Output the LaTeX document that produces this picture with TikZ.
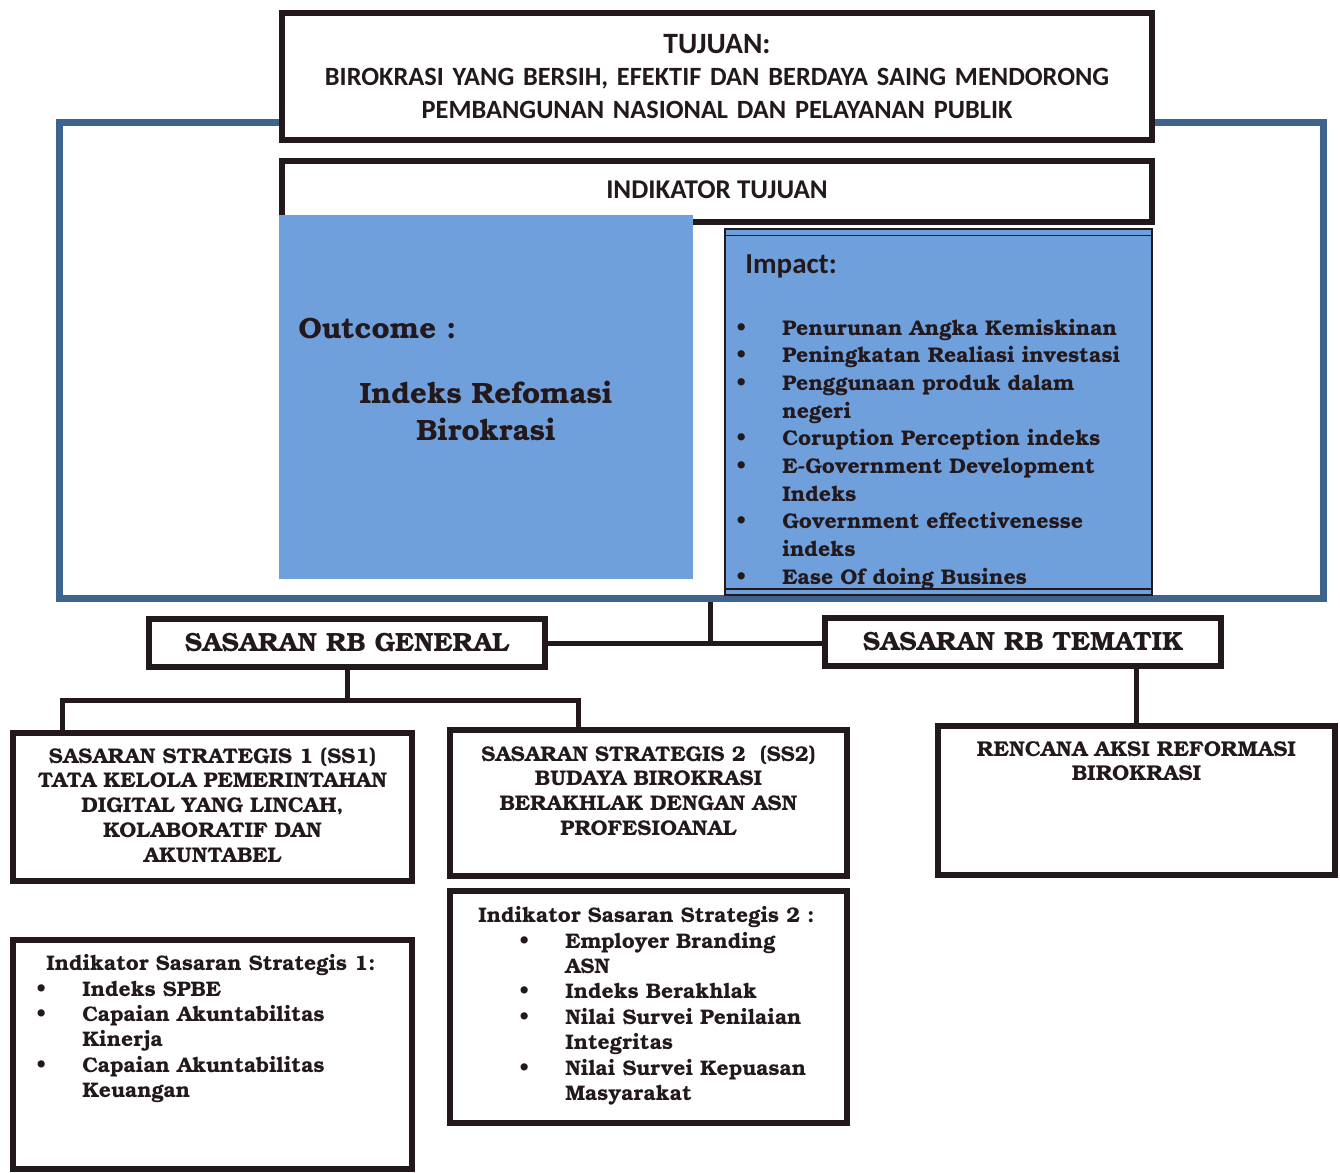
\documentclass[tikz,border=0pt]{standalone}
\usepackage{fontspec}
\setmainfont{TeX Gyre Bonum}
\newfontfamily\calfont{Carlito}
\definecolor{bluebox}{RGB}{112,160,220}
\definecolor{framebl}{RGB}{62,99,143}
\definecolor{boxline}{RGB}{35,25,28}
\newcommand{\itm}[1]{\makebox[9.2mm][l]{\textbullet}#1}
\newcommand{\ind}[1]{\hspace*{9.2mm}#1}
\begin{document}
\begin{tikzpicture}[x=0.2mm, y=-0.2mm,
	box/.style={draw=boxline, line width=1.2mm, fill=white, inner sep=0},
	wire/.style={draw=boxline, line width=1mm},
	txt/.style={inner sep=0, text=boxline, font=\bfseries}]
	
	\useasboundingbox (0,0) rectangle (1340,1172);
	
	% Rahmen biru
	\node[draw=framebl, line width=1.4mm, minimum width=252.6mm, minimum height=95mm, inner sep=0] (frame) at (691.5,360.5) {};
	
	% Tujuan
	\node[box, minimum width=174mm, minimum height=25.4mm] (tujuan) at (717,76.5) {};
	\node[txt, anchor=base, text width=172mm, align=center, font=\calfont\bfseries\fontsize{15}{18.5}\selectfont] (tujuantxt) at (717,53)
	{{\fontsize{16.8}{18.5}\selectfont TUJUAN:}\\BIROKRASI YANG BERSIH, EFEKTIF DAN BERDAYA SAING MENDORONG\\PEMBANGUNAN NASIONAL DAN PELAYANAN PUBLIK};
	
	% Indikator Tujuan
	\node[box, minimum width=174mm, minimum height=12.2mm] (indtujuan) at (717,191.5) {};
	\node[txt, anchor=base, font=\calfont\bfseries\fontsize{15.4}{18}\selectfont] (indtujuantxt) at (717,198) {INDIKATOR TUJUAN};
	
	% Outcome
	\node[fill=bluebox, minimum width=82.8mm, minimum height=72.8mm, inner sep=0] (outcome) at (486,397) {};
	\node[txt, anchor=base west, font=\bfseries\fontsize{16.7}{20}\selectfont] (outlbl) at (298,338) {Outcome :};
	\node[txt, anchor=base, text width=78mm, align=center, font=\bfseries\fontsize{16.7}{21.5}\selectfont] (outval) at (486,403) {Indeks Refomasi\\Birokrasi};
	
	% Impact
	\node[fill=bluebox, draw=boxline, line width=0.3mm, minimum width=85.4mm, minimum height=73.2mm, inner sep=0] (impact) at (938.5,412) {};
	\draw[boxline, line width=0.3mm] ([yshift=-1.4mm]impact.north west) -- ([yshift=-1.4mm]impact.north east);
	\draw[boxline, line width=0.3mm] ([yshift=1.4mm]impact.south west) -- ([yshift=1.4mm]impact.south east);
	\node[txt, anchor=base west, font=\calfont\bfseries\fontsize{16.5}{20}\selectfont] (implbl) at (745,273) {Impact:};
	\node[txt, anchor=base west, text width=82mm, align=left, font=\bfseries\fontsize{12.1}{15.75}\selectfont] (implist) at (736,335)
	{\itm{Penurunan Angka Kemiskinan}\\\itm{Peningkatan Realiasi investasi}\\\itm{Penggunaan produk dalam}\\\ind{negeri}\\\itm{Coruption Perception indeks}\\\itm{E-Government Development}\\\ind{Indeks}\\\itm{Government effectivenesse}\\\ind{indeks}\\\itm{Ease Of doing Busines}};
	
	% Sasaran RB
	\node[box, minimum width=79.2mm, minimum height=9.6mm, font=\bfseries\fontsize{15}{18}\selectfont, text=boxline] (gen) at (347,643) {SASARAN RB GENERAL};
	\node[box, minimum width=79.2mm, minimum height=9.6mm, font=\bfseries\fontsize{15}{18}\selectfont, text=boxline] (tem) at (1023,642) {SASARAN RB TEMATIK};
	\coordinate (jn) at (710,642);
	\draw[wire] (frame.south -| jn) -- (jn);
	\draw[wire] (gen.east) -- (gen.east -| tem.west);
	
	% Sasaran Strategis
	\node[box, minimum width=79.8mm, minimum height=29.6mm] (ss1) at (212.5,807) {};
	\node[box, minimum width=79.4mm, minimum height=29.2mm] (ss2) at (648.5,803) {};
	\node[box, minimum width=79.4mm, minimum height=29.8mm] (ren) at (1136.5,800.5) {};
	\coordinate (gbus) at (347,700);
	\draw[wire] (gen.south) -- (gbus);
	\draw[wire] ([xshift=-29.9mm]ss1.north) |- (gbus) -| ([xshift=-14.1mm]ss2.north);
	\draw[wire] (ren.north) -- (ren.north |- tem.south);
	
	\node[txt, anchor=base, text width=78mm, align=center, font=\bfseries\fontsize{12.1}{14.2}\selectfont] (ss1txt) at (212.5,763)
	{SASARAN STRATEGIS 1 (SS1)\\TATA KELOLA PEMERINTAHAN\\DIGITAL YANG LINCAH,\\KOLABORATIF DAN\\AKUNTABEL};
	\node[txt, anchor=base, text width=78mm, align=center, font=\bfseries\fontsize{12.1}{14.2}\selectfont] (ss2txt) at (648.5,761)
	{SASARAN STRATEGIS 2~~(SS2)\\BUDAYA BIROKRASI\\BERAKHLAK DENGAN ASN\\PROFESIOANAL};
	\node[txt, anchor=base, text width=78mm, align=center, font=\bfseries\fontsize{12.2}{14.2}\selectfont] (rentxt) at (1136.5,756)
	{RENCANA AKSI REFORMASI\\BIROKRASI};
	
	% Indikator Sasaran Strategis
	\node[box, minimum width=79.4mm, minimum height=46.4mm] (iss2) at (648.5,1007) {};
	\node[box, minimum width=79.8mm, minimum height=45.8mm] (iss1) at (212.5,1054.5) {};
	\node[txt, anchor=base west, font=\bfseries\fontsize{12}{14.5}\selectfont] (iss2lbl) at (478,922) {Indikator Sasaran Strategis 2 :};
	\node[txt, anchor=base west, text width=70mm, align=left, font=\bfseries\fontsize{12}{14.5}\selectfont] (iss2list) at (519,948)
	{\itm{Employer Branding}\\\ind{ASN}\\\itm{Indeks Berakhlak}\\\itm{Nilai Survei Penilaian}\\\ind{Integritas}\\\itm{Nilai Survei Kepuasan}\\\ind{Masyarakat}};
	\node[txt, anchor=base west, font=\bfseries\fontsize{12}{14.5}\selectfont] (iss1lbl) at (46,970) {Indikator Sasaran Strategis 1:};
	\node[txt, anchor=base west, text width=70mm, align=left, font=\bfseries\fontsize{12}{14.5}\selectfont] (iss1list) at (36,996)
	{\itm{Indeks SPBE}\\\itm{Capaian Akuntabilitas}\\\ind{Kinerja}\\\itm{Capaian Akuntabilitas}\\\ind{Keuangan}};
\end{tikzpicture}
\end{document}
